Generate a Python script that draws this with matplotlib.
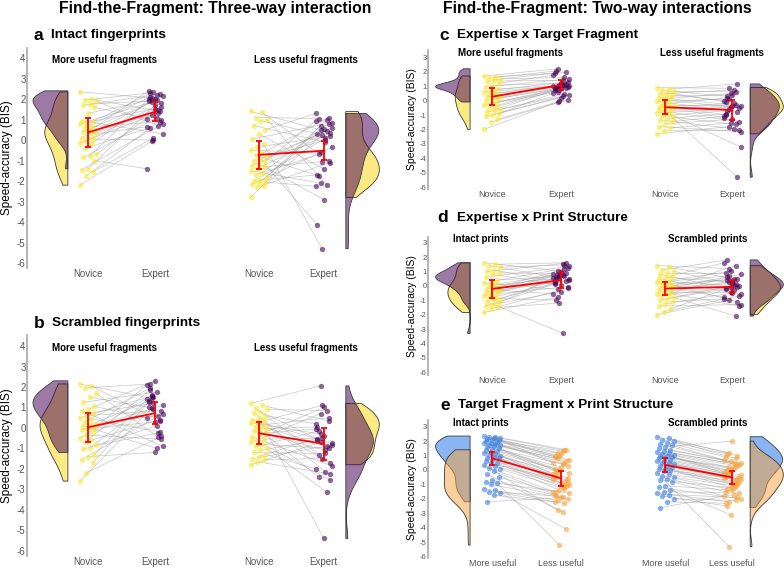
import numpy as np
import matplotlib.pyplot as plt
from matplotlib.colors import to_rgba

plt.rcParams['font.family'] = ['Liberation Sans', 'DejaVu Sans']

# ---------------- data (BIS scores) ----------------
# panel a: intact fingerprints
a_more_nov = [2.35, 2.0, 1.95, 1.9, 1.75, 1.7, 1.6, 1.3, 0.95, 0.9, 0.85, 0.8, 0.65, 0.6, 0.5, 0.45, 0.4,
              0.3, 0.2, 0.1, 0.05, -0.05, -0.15, -0.2, -0.4, -0.7, -0.8, -0.85, -1.0, -1.4, -1.45, -1.55, -1.75, -2.2]
a_more_exp = [2.05, 1.4, 2.3, 0.7, 1.9, 2.2, 1.05, 2.0, 0.3, 2.35, 1.6, 1.85, 0.9, 2.1, 1.3, 2.4, 1.95,
              0.65, 1.5, 2.15, 0.0, 1.8, 1.2, 2.25, 0.6, 1.45, 2.0, 1.1, -1.4, 1.7, 0.8, 0.1, 1.0, -0.05]
a_less_nov = [1.4, 1.35, 1.1, 1.0, 0.95, 0.7, 0.5, 0.3, 0.05, -0.2, -0.35, -0.5, -0.65, -0.75, -0.8, -0.9, -1.0,
              -1.05, -1.15, -1.25, -1.3, -1.4, -1.5, -1.6, -1.7, -1.8, -1.95, -2.0, -2.05, -2.1, -2.15, -2.25, -2.3, -2.8]
a_less_exp = [0.5, -1.0, 1.05, -2.2, 0.3, -0.1, 1.3, -1.4, 0.85, -5.3, 0.2, -0.6, 1.1, -1.75, 0.45, -4.15, 0.0,
              0.95, -2.9, 0.6, -1.05, 0.35, -2.1, 0.8, -0.7, 1.0, -1.7, 0.1, -2.25, 0.55, -0.35, 0.25, -1.1, 0.7]
a_means = [0.37, 1.38, -0.72, -0.52]
a_errs = [0.69, 0.47, 0.69, 0.45]

# panel b: scrambled fingerprints
b_more_nov = [2.15, 2.05, 1.95, 1.7, 1.5, 1.25, 1.05, 0.9, 0.85, 0.75, 0.6, 0.5, 0.45, 0.3, 0.2, 0.15, 0.1,
              0.0, -0.05, -0.1, -0.2, -0.35, -0.5, -0.6, -0.7, -0.85, -1.0, -1.05, -1.3, -1.4, -1.55, -1.7, -2.2, -2.6]
b_more_exp = [1.45, 0.35, 2.15, -0.45, 1.0, 1.75, 0.5, 2.3, -0.9, 1.2, 0.85, 1.55, -0.2, 1.95, 0.6, 1.3, -1.0,
              2.1, 0.3, 1.1, 0.9, -0.55, 1.6, 0.4, 1.85, -0.25, 1.25, 0.1, 1.4, -1.2, 0.7, 1.5, -0.4, 0.95]
b_less_nov = [1.2, 1.1, 0.95, 0.9, 0.8, 0.75, 0.6, 0.5, 0.4, 0.35, 0.3, 0.25, 0.15, 0.05, 0.0, -0.05, -0.15,
              -0.25, -0.35, -0.45, -0.55, -0.65, -0.7, -0.8, -0.9, -1.0, -1.1, -1.2, -1.3, -1.4, -1.5, -1.55, -1.65, -1.8]
b_less_exp = [2.05, 0.35, -1.3, 0.85, -0.55, -2.15, 0.2, -5.4, -0.75, 1.1, -1.7, -0.3, 0.5, -2.4, -0.9, 0.05, -1.1,
              -0.05, 1.0, -1.85, -0.5, -2.55, 0.7, -1.0, -0.15, -3.15, -0.6, -1.25, -2.0, -0.4, -0.85, -1.5, -2.25, -0.7]
b_means = [0.03, 0.72, -0.26, -0.78]
b_errs = [0.71, 0.55, 0.55, 0.79]

# panel c: expertise x target fragment
c_more_nov = [1.7, 1.65, 1.55, 1.5, 1.45, 1.35, 1.2, 1.05, 0.95, 0.8, 0.7, 0.6, 0.5, 0.45, 0.35, 0.3, 0.25,
              0.2, 0.1, 0.0, -0.1, -0.2, -0.3, -0.45, -0.5, -0.6, -0.65, -0.8, -0.9, -1.0, -1.1, -1.3, -1.5, -2.0]
c_more_exp = [2.2, 1.95, 2.05, 1.6, 1.9, 1.4, 1.75, 1.2, 1.5, 1.05, 1.3, 1.0, 1.15, 0.95, 1.1, 0.9, 1.05,
              1.0, 0.85, 1.0, 0.75, 0.95, 0.6, 0.9, 0.8, 0.45, 0.7, 0.3, 0.5, 0.2, 0.4, -0.05, 0.05, -0.1]
c_less_nov = [0.9, 0.8, 0.7, 0.65, 0.55, 0.45, 0.4, 0.3, 0.2, 0.15, 0.05, -0.05, -0.15, -0.25, -0.3, -0.35, -0.45,
              -0.5, -0.55, -0.6, -0.7, -0.75, -0.85, -0.95, -1.05, -1.15, -1.25, -1.35, -1.45, -1.6, -1.8, -1.9, -2.1, -2.3]
c_less_exp = [0.85, 1.15, 0.3, 0.6, -0.1, 0.75, 0.0, 0.4, -0.35, 0.5, -0.5, 0.1, -0.8, 0.2, -0.3, -1.0, -0.2,
              -1.2, -0.4, -3.2, -0.45, -1.45, -0.6, -5.3, -0.7, -1.65, -0.9, -1.95, -1.1, -1.3, -2.15, -1.55, -2.05, -1.8]
c_means = [0.27, 1.08, -0.46, -0.65]
c_errs = [0.6, 0.35, 0.48, 0.7]

# panel d: expertise x print structure
d_int_nov = [1.6, 1.5, 1.4, 1.3, 1.1, 1.0, 0.9, 0.8, 0.6, 0.4, 0.3, 0.2, 0.1, 0.0, -0.05, -0.1, -0.2,
             -0.3, -0.35, -0.45, -0.5, -0.6, -0.7, -0.75, -0.85, -0.9, -1.0, -1.1, -1.2, -1.3, -1.4, -1.5, -1.6, -1.85]
d_int_exp = [1.05, 1.6, 0.6, 1.45, 0.3, 1.55, 0.85, 0.05, 1.35, 0.65, 1.25, -0.25, 0.9, 0.5, 1.15, 0.2, 0.75,
             -0.55, 0.95, 0.4, 0.6, -0.05, 0.8, 0.35, -1.0, 0.7, 0.15, -3.3, 0.55, -0.4, 0.45, -1.2, -0.15, -0.8]
d_scr_nov = [1.4, 1.3, 1.1, 1.0, 0.9, 0.8, 0.7, 0.6, 0.5, 0.4, 0.3, 0.25, 0.15, 0.1, 0.0, -0.05, -0.1,
             -0.15, -0.2, -0.3, -0.4, -0.45, -0.55, -0.6, -0.7, -0.8, -0.9, -1.0, -1.1, -1.25, -1.4, -1.6, -1.8, -2.0]
d_scr_exp = [1.2, 0.45, 1.8, 0.1, 0.9, -0.3, 1.6, 0.25, -0.6, 1.0, 0.0, 0.7, -1.1, 0.4, 1.4, -0.15, 0.5,
             -0.8, 0.2, 0.8, -0.4, -1.4, 0.3, -0.05, 0.6, -2.1, -0.2, 0.05, -0.9, -0.5, -1.3, -0.1, -0.7, -1.0]
d_means = [-0.21, 0.39, -0.19, -0.07]
d_errs = [0.6, 0.55, 0.46, 0.46]

# panel e: target fragment x print structure
e_int_more = [2.35, 2.3, 2.25, 2.2, 2.2, 2.15, 2.1, 2.05, 2.0, 1.95, 1.9, 1.85, 1.8, 1.75, 1.7, 1.65, 1.6,
              1.5, 1.45, 1.4, 1.3, 1.25, 1.2, 1.1, 1.05, 1.0, 0.9, 0.85, 0.8, 0.7, 0.6, 0.5, 0.45, 0.35,
              0.25, 0.15, 0.05, -0.1, -0.3, -0.5, -0.7, -0.8, -0.9, -1.0, -1.3, -1.4, -1.5, -1.6, -1.75, -2.2]
e_int_less = [1.2, 1.4, 0.9, 1.35, 1.0, 1.3, 0.5, 1.1, 0.7, 1.0, 0.3, 0.8, 0.6, -0.05, 0.5, 0.1, 0.4,
              -0.3, 0.2, -0.2, 0.0, -0.55, -0.1, -0.7, -0.4, -1.0, -0.5, -1.2, -0.6, -0.9, -1.05, -1.4, -0.8, -2.8,
              -1.1, -1.55, -1.3, -1.7, -2.9, -1.5, -1.85, -1.6, -5.2, -2.0, -2.1, -4.1, -1.8, -2.3, -2.2, -1.9]
e_scr_more = [2.3, 2.2, 2.1, 2.0, 1.9, 1.8, 1.7, 1.6, 1.5, 1.4, 1.3, 1.25, 1.2, 1.1, 1.05, 1.0, 0.95,
              0.9, 0.85, 0.8, 0.7, 0.65, 0.6, 0.5, 0.45, 0.4, 0.3, 0.25, 0.2, 0.1, 0.05, 0.0, -0.1, -0.2,
              -0.3, -0.4, -0.5, -0.6, -0.7, -0.8, -1.1, -1.2, -1.35, -1.5, -1.6, -1.7, -1.8, -2.0, -2.2, -2.6]
e_scr_less = [1.2, 1.0, 1.1, 0.8, 0.9, 0.5, 0.7, 2.0, 0.45, 0.6, 0.35, 0.2, 0.4, 0.0, 0.3, -0.1, 0.15,
              -0.2, 0.1, -0.35, -0.05, -0.45, -0.3, -0.6, -0.4, -0.7, -0.5, -0.9, -0.55, -1.0, -0.65, -1.2, -0.8, -5.3,
              -0.95, -1.3, -1.1, -1.5, -1.25, -1.8, -1.4, -2.0, -3.1, -1.6, -2.2, -1.9, -2.5, -2.1, -2.3, -1.7]
e_means = [0.81, -0.58, 0.35, -0.51]
e_errs = [0.44, 0.52, 0.47, 0.46]

expertise_labels = ['Novice', 'Expert', 'Novice', 'Expert']
fragment_labels = ['More useful', 'Less useful', 'More useful', 'Less useful']

# ---------------- styling ----------------
W, H = 784, 568
YEL, PUR = '#FDE725', '#440154'
BLU, ORA = '#3C7FE0', '#F5A33C'
YEL_V, PUR_V = '#FCEA84', '#440154'
BLU_V, ORA_V = '#8AB4F2', '#F5A33C'

fig = plt.figure(figsize=(W / 100, H / 100), dpi=100)


def rect(x0, y0, x1, y1):
    return [x0 / W, 1 - y1 / H, (x1 - x0) / W, (y1 - y0) / H]


def ftext(x, y, s, **kw):
    fig.text(x / W, 1 - y / H, s, va='center', **kw)


def kde(vals, grid):
    v = np.asarray(vals, dtype=float)
    n = len(v)
    q75, q25 = np.percentile(v, [75, 25])
    bw = 0.9 * min(v.std(ddof=1), (q75 - q25) / 1.34) * n ** -0.2
    d = np.exp(-0.5 * ((grid[:, None] - v[None, :]) / bw) ** 2).sum(1)
    return d / (n * bw * np.sqrt(2 * np.pi))


def half_violin(ax, groups, fills, alphas, x0, width, side):
    curves = []
    for g in groups:
        y = np.linspace(min(g), max(g), 300)
        curves.append((y, kde(g, y)))
    top = max(d.max() for _, d in curves)
    for (y, d), c, a in zip(curves, fills, alphas):
        xs = np.concatenate([[x0], x0 + side * d / top * width, [x0]])
        ys = np.concatenate([[y[0]], y, [y[-1]]])
        ax.fill(xs, ys, facecolor=to_rgba(c, a), edgecolor='#3a3a3a', lw=0.6, zorder=1)


def draw(ax, groups, means, errs, pos, cols, vfills, valphas, vx, vw, ylim, yticks,
         xlabels, tick_fs, xlim):
    half_violin(ax, groups[:2], vfills, valphas, vx[0], vw[0], -1)
    half_violin(ax, groups[2:], vfills, valphas, vx[1], vw[1], 1)
    for k in (0, 2):
        y1 = np.asarray(groups[k])
        y2 = np.asarray(groups[k + 1])
        n = len(y1)
        jit = (((np.arange(n) * 7) % 11) - 5) / 5 * 0.12
        jit2 = (((np.arange(n) * 5 + 3) % 11) - 5) / 5 * 0.12
        x1 = pos[k] + jit
        x2 = pos[k + 1] + jit2
        for i in range(n):
            ax.plot([x1[i], x2[i]], [y1[i], y2[i]], color='#9a9a9a', lw=0.5, alpha=0.55, zorder=2)
        ax.scatter(x1, y1, s=15, color=cols[0], alpha=0.6, lw=0, zorder=3)
        ax.scatter(x2, y2, s=15, color=cols[1], alpha=0.6, lw=0, zorder=3)
        ax.plot([pos[k], pos[k + 1]], [means[k], means[k + 1]], color='red', lw=1.3, zorder=5)
        for j in (k, k + 1):
            ax.errorbar(pos[j], means[j], yerr=errs[j], color='red', lw=1.3, capsize=2.4,
                        capthick=1.3, zorder=5)
    ax.set_xlim(*xlim)
    ax.set_ylim(*ylim)
    ax.set_yticks(yticks)
    ax.set_yticklabels([str(t) for t in yticks], fontsize=tick_fs[0], color='#555555')
    ax.set_xticks(pos)
    ax.set_xticklabels(xlabels, fontsize=tick_fs[1], color='#555555')
    ax.tick_params(length=0, pad=1)
    for s in ('top', 'right', 'bottom'):
        ax.spines[s].set_visible(False)
    ax.spines['left'].set_color('#a0a0a0')
    ax.spines['left'].set_linewidth(1.1)
    ax.patch.set_alpha(0)


LPOS = [1, 2, 3.55, 4.52]
RPOS = [1, 2, 3.51, 4.48]
LX = (0.09, 5.42)
RX = (0.07, 5.23)
pv_fill = [YEL_V, PUR_V]
pv_alpha = [1.0, 0.52]
bo_fill = [BLU_V, ORA_V]
bo_alpha = [1.0, 0.5]

ax = fig.add_axes(rect(27, 48, 384, 268))
draw(ax, [a_more_nov, a_more_exp, a_less_nov, a_less_exp], a_means, a_errs, LPOS, [YEL, PUR],
     pv_fill, pv_alpha, (0.70, 4.85), (0.52, 0.5), (-6.24, 4.49), list(range(-6, 5)),
     expertise_labels, (7, 7), LX)
ax.set_ylabel('Speed-accuracy (BIS)', fontsize=8.5, labelpad=3)

ax = fig.add_axes(rect(27, 335, 384, 556))
draw(ax, [b_more_nov, b_more_exp, b_less_nov, b_less_exp], b_means, b_errs, LPOS, [YEL, PUR],
     pv_fill, pv_alpha, (0.70, 4.85), (0.52, 0.5), (-6.26, 4.54), list(range(-6, 5)),
     expertise_labels, (7, 7), LX)
ax.set_ylabel('Speed-accuracy (BIS)', fontsize=8.5, labelpad=3)

ax = fig.add_axes(rect(428, 50, 784, 189))
draw(ax, [c_more_nov, c_more_exp, c_less_nov, c_less_exp], c_means, c_errs, RPOS, [YEL, PUR],
     pv_fill, pv_alpha, (0.68, 4.74), (0.5, 0.48), (-6.12, 3.5), list(range(-6, 4)),
     expertise_labels, (5.5, 6.5), RX)
ax.set_ylabel('Speed-accuracy (BIS)', fontsize=7.5, labelpad=2)

ax = fig.add_axes(rect(428, 237, 784, 375))
draw(ax, [d_int_nov, d_int_exp, d_scr_nov, d_scr_exp], d_means, d_errs, RPOS, [YEL, PUR],
     pv_fill, pv_alpha, (0.68, 4.74), (0.5, 0.48), (-6.19, 3.39), list(range(-6, 4)),
     expertise_labels, (5.5, 6.5), RX)
ax.set_ylabel('Speed-accuracy (BIS)', fontsize=7.5, labelpad=2)

ax = fig.add_axes(rect(428, 420, 784, 558))
draw(ax, [e_int_more, e_int_less, e_scr_more, e_scr_less], e_means, e_errs, RPOS, [BLU, ORA],
     bo_fill, bo_alpha, (0.68, 4.74), (0.5, 0.48), (-6.09, 3.46), list(range(-6, 4)),
     fragment_labels, (5.5, 6.5), RX)
ax.set_ylabel('Speed-accuracy (BIS)', fontsize=7.5, labelpad=2)

# ---------------- titles ----------------
ftext(215, 8, 'Find-the-Fragment: Three-way interaction', fontsize=11.3, weight='bold', ha='center')
ftext(597, 8, 'Find-the-Fragment: Two-way interactions', fontsize=11.3, weight='bold', ha='center')

ftext(34, 35, 'a', fontsize=12.5, weight='bold')
ftext(51, 35, 'Intact fingerprints', fontsize=9.7, weight='bold')
ftext(34, 323, 'b', fontsize=12.5, weight='bold')
ftext(52, 323, 'Scrambled fingerprints', fontsize=9.7, weight='bold')
ftext(439, 35, 'c', fontsize=12.5, weight='bold')
ftext(457, 35, 'Expertise x Target Fragment', fontsize=9.7, weight='bold')
ftext(437, 218, 'd', fontsize=12.5, weight='bold')
ftext(457, 218, 'Expertise x Print Structure', fontsize=9.7, weight='bold')
ftext(440, 405, 'e', fontsize=12.5, weight='bold')
ftext(458, 405, 'Target Fragment x Print Structure', fontsize=9.7, weight='bold')

for x, y, s in [(104, 60, 'More useful fragments'), (306, 60, 'Less useful fragments'),
                (104, 348, 'More useful fragments'), (306, 348, 'Less useful fragments'),
                (510, 53, 'More useful fragments'), (712, 53, 'Less useful fragments'),
                (481, 239, 'Intact prints'), (708, 239, 'Scrambled prints'),
                (481, 423, 'Intact prints'), (708, 423, 'Scrambled prints')]:
    ftext(x, y, s, fontsize=7, weight='bold', ha='center')

fig.savefig('out.png', dpi=100)
